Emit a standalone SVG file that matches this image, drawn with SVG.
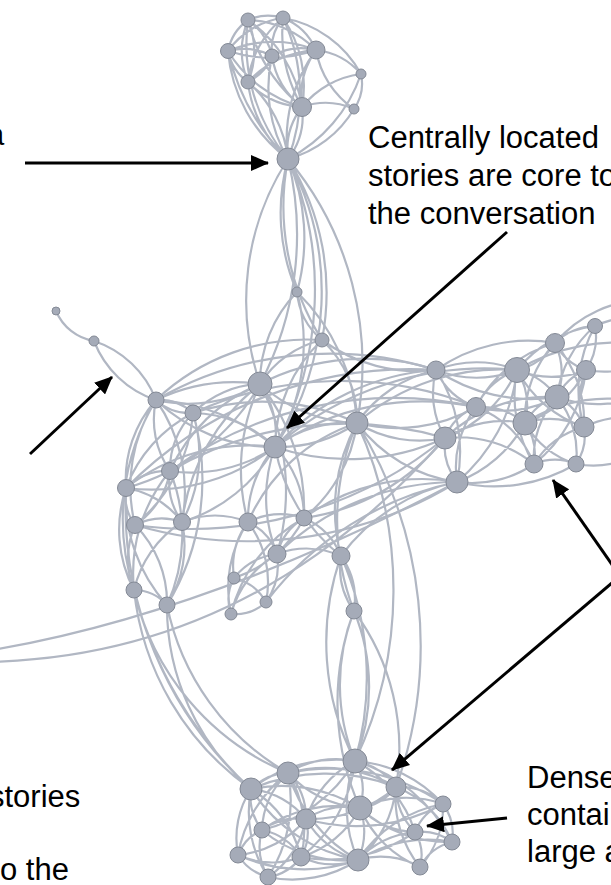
<svg xmlns="http://www.w3.org/2000/svg" width="611" height="885" viewBox="0 0 611 885">
<style>
.n{fill:#a5abb8;stroke:#848a96;stroke-width:1}
.t{font-family:"Liberation Sans",Arial,sans-serif;font-size:31px;fill:#000}
.a{stroke:#000;stroke-width:3;fill:none}
</style>
<defs>
<marker id="ah" viewBox="0 0 18 16" refX="17" refY="8" markerWidth="18" markerHeight="16" markerUnits="userSpaceOnUse" orient="auto"><path d="M0,0 L18,8 L0,16 z" fill="#000"/></marker>
</defs>
<rect width="611" height="885" fill="#fff"/>
<g id="connectors" fill="none" stroke="#b1b7c3" stroke-width="2.2">
<path d="M248 20A50 50 0 0 1 283 18M248 20A50 50 0 0 0 228 51M248 20A60 60 0 0 1 272 56M248 20A100 100 0 0 1 316 50M248 20A80 80 0 0 0 248 82M248 20A80 80 0 0 1 248 82M248 20A130 130 0 0 1 302 107M248 20A160 160 0 0 0 302 107M248 20A180 180 0 0 0 288 159M283 18A80 80 0 0 0 228 51M283 18A50 50 0 0 0 272 56M283 18A60 60 0 0 1 316 50M283 18A95 95 0 0 0 248 82M283 18A120 120 0 0 1 302 107M283 18A150 150 0 0 0 302 107M283 18A110 110 0 0 1 361 74M283 18A180 180 0 0 1 288 159M228 51A60 60 0 0 1 272 56M228 51A115 115 0 0 1 316 50M228 51A140 140 0 0 0 316 50M228 51A50 50 0 0 0 248 82M228 51A125 125 0 0 0 302 107M228 51A150 150 0 0 0 288 159M228 51A220 220 0 0 0 288 159M272 56A60 60 0 0 1 316 50M272 56A50 50 0 0 1 248 82M272 56A80 80 0 0 0 302 107M272 56A140 140 0 0 0 288 159M316 50A100 100 0 0 0 248 82M316 50A80 80 0 0 0 302 107M316 50A70 70 0 0 1 361 74M316 50A90 90 0 0 0 354 109M316 50A150 150 0 0 0 288 159M248 82A80 80 0 0 0 302 107M248 82A120 120 0 0 0 288 159M248 82A120 120 0 0 1 288 159M302 107A90 90 0 0 1 361 74M302 107A70 70 0 0 1 354 109M361 74A45 45 0 0 1 354 109M302 107A70 70 0 0 0 288 159M302 107A70 70 0 0 1 288 159M354 109A110 110 0 0 1 288 159M361 74A150 150 0 0 1 288 159"/>
<path d="M288 159A200 200 0 0 0 297 292M288 159A200 200 0 0 1 297 292M288 159A260 260 0 0 0 260 384M288 159A320 320 0 0 1 260 384M288 159A330 330 0 0 1 275 447M288 159A280 280 0 0 1 275 447M288 159A250 250 0 0 1 322 340M288 159A250 250 0 0 0 322 340M288 159A320 320 0 0 1 357 423"/>
<path d="M297 292A130 130 0 0 0 260 384M297 292A70 70 0 0 0 322 340M297 292A200 200 0 0 1 275 447M297 292A200 200 0 0 1 357 423M322 340A100 100 0 0 0 260 384M322 340A150 150 0 0 0 275 447M322 340A160 160 0 0 0 436 370M322 340A110 110 0 0 1 357 423M322 340A220 220 0 0 0 156 400M260 384A140 140 0 0 1 156 400M260 384A180 180 0 0 0 156 400M260 384A100 100 0 0 0 193 413M260 384A90 90 0 0 1 275 447M260 384A150 150 0 0 0 357 423M260 384A170 170 0 0 0 170 471M260 384A220 220 0 0 1 126 488M260 384A200 200 0 0 0 248 522M260 384A200 200 0 0 1 304 518M260 384A230 230 0 0 1 436 370M260 384A230 230 0 0 1 277 554M260 384A210 210 0 0 0 182 522"/>
<path d="M275 447A170 170 0 0 1 156 400M275 447A200 200 0 0 0 156 400M275 447A120 120 0 0 0 193 413M275 447A150 150 0 0 1 170 471M275 447A200 200 0 0 0 126 488M275 447A200 200 0 0 1 126 488M275 447A160 160 0 0 1 182 522M275 447A110 110 0 0 0 248 522M275 447A100 100 0 0 1 304 518M275 447A120 120 0 0 1 357 423M275 447A140 140 0 0 0 357 423M275 447A240 240 0 0 1 436 370M275 447A320 320 0 0 1 517 370M275 447A260 260 0 0 1 476 407M275 447A150 150 0 0 0 277 554M275 447A180 180 0 0 0 341 556M275 447A230 230 0 0 0 445 438"/>
<path d="M156 400A350 350 0 0 1 436 370M193 413A360 360 0 0 1 476 407M170 471A350 350 0 0 1 445 438M135 525A400 400 0 0 0 457 482M193 413A220 220 0 0 1 357 423M126 488A400 400 0 0 1 436 370M135 525A400 400 0 0 0 445 438M170 471A380 380 0 0 1 476 407"/>
<path d="M357 423A130 130 0 0 1 436 370M357 423A160 160 0 0 0 476 407M357 423A120 120 0 0 0 445 438M357 423A150 150 0 0 0 457 482M357 423A150 150 0 0 1 304 518M357 423A180 180 0 0 0 341 556M357 423A220 220 0 0 1 517 370M357 423A250 250 0 0 0 354 611M357 423A400 400 0 0 1 355 761M357 423A420 420 0 0 1 396 787"/>
<path d="M436 370A110 110 0 0 1 517 370M436 370A110 110 0 0 0 517 370M436 370A160 160 0 0 1 555 343M436 370A70 70 0 0 0 476 407M436 370A90 90 0 0 0 445 438M436 370A170 170 0 0 0 557 397M436 370A150 150 0 0 1 457 482M517 370A60 60 0 0 0 555 343M517 370A120 120 0 0 1 595 326M517 370A90 90 0 0 0 586 370M517 370A70 70 0 0 1 557 397M517 370A75 75 0 0 0 476 407M517 370A70 70 0 0 1 525 423M517 370A120 120 0 0 0 584 427M517 370A130 130 0 0 1 445 438M517 370A130 130 0 0 0 534 464M517 370A170 170 0 0 1 457 482M555 343A60 60 0 0 1 595 326M555 343A55 55 0 0 0 586 370M555 343A70 70 0 0 1 557 397M555 343A110 110 0 0 0 525 423M555 343A120 120 0 0 1 584 427M555 343A130 130 0 0 0 476 407M595 326A60 60 0 0 1 586 370M595 326A110 110 0 0 0 557 397M595 326A130 130 0 0 0 584 427M586 370A55 55 0 0 0 557 397M586 370A110 110 0 0 1 525 423M586 370A80 80 0 0 0 584 427M586 370A140 140 0 0 1 534 464M557 397A110 110 0 0 1 476 407M557 397A55 55 0 0 0 525 423M557 397A55 55 0 0 1 584 427M557 397A90 90 0 0 0 534 464M557 397A90 90 0 0 1 576 464M557 397A150 150 0 0 0 445 438M476 407A70 70 0 0 1 525 423M476 407A55 55 0 0 0 445 438M476 407A100 100 0 0 1 534 464M476 407A100 100 0 0 0 457 482M525 423A80 80 0 0 1 584 427M525 423A110 110 0 0 0 445 438M525 423A55 55 0 0 1 534 464M525 423A90 90 0 0 0 576 464M525 423A130 130 0 0 1 457 482M584 427A50 50 0 0 1 576 464M584 427A85 85 0 0 0 534 464M445 438A120 120 0 0 1 534 464M445 438A60 60 0 0 0 457 482M534 464A55 55 0 0 1 576 464M457 482A110 110 0 0 0 534 464M457 482A160 160 0 0 0 576 464"/>
<path d="M595 326A100 100 0 0 1 650 318M586 370A100 100 0 0 0 650 360M584 427A100 100 0 0 1 650 420M557 397A120 120 0 0 0 650 392M576 464A100 100 0 0 0 650 448M555 343A120 120 0 0 1 650 300M525 423A150 150 0 0 1 650 405M517 370A200 200 0 0 1 650 345"/>
<path d="M56 311A50 50 0 0 0 94 341M94 341A100 100 0 0 1 156 400M94 341A100 100 0 0 0 156 400M156 400A50 50 0 0 1 193 413M156 400A50 50 0 0 0 193 413M156 400A90 90 0 0 0 170 471M156 400A120 120 0 0 0 126 488M156 400A160 160 0 0 0 135 525M156 400A230 230 0 0 0 134 590M156 400A160 160 0 0 1 182 522M193 413A80 80 0 0 0 170 471M193 413A140 140 0 0 0 126 488M193 413A140 140 0 0 1 182 522M193 413A160 160 0 0 1 135 525M193 413A240 240 0 0 1 167 605M170 471A60 60 0 0 0 126 488M170 471A80 80 0 0 1 135 525M170 471A70 70 0 0 0 182 522M170 471A160 160 0 0 0 134 590M170 471A170 170 0 0 1 167 605M126 488A50 50 0 0 0 135 525M126 488A90 90 0 0 1 182 522M126 488A130 130 0 0 0 134 590M126 488A160 160 0 0 0 167 605M135 525A60 60 0 0 1 182 522M135 525A85 85 0 0 0 134 590M135 525A110 110 0 0 1 167 605M182 522A110 110 0 0 0 134 590M182 522A110 110 0 0 1 167 605M182 522A90 90 0 0 1 248 522M134 590A45 45 0 0 1 167 605"/>
<path d="M248 522A55 55 0 0 1 277 554M248 522A75 75 0 0 0 234 578M248 522A100 100 0 0 1 266 602M248 522A120 120 0 0 0 231 614M248 522A75 75 0 0 1 304 518M248 522A180 180 0 0 1 357 423M304 518A60 60 0 0 0 277 554M304 518A120 120 0 0 1 234 578M304 518A70 70 0 0 1 341 556M304 518A200 200 0 0 1 457 482M304 518A220 220 0 0 0 445 438M277 554A65 65 0 0 0 234 578M277 554A65 65 0 0 1 266 602M277 554A100 100 0 0 0 231 614M277 554A85 85 0 0 1 341 556M277 554A260 260 0 0 1 457 482M234 578A50 50 0 0 1 266 602M234 578A45 45 0 0 0 231 614M266 602A45 45 0 0 1 231 614M266 602A320 320 0 0 1 457 482M231 614A150 150 0 0 1 304 518M341 556A75 75 0 0 0 354 611M341 556A75 75 0 0 1 354 611M341 556A190 190 0 0 1 457 482M341 556A260 260 0 0 0 355 761M341 556A300 300 0 0 1 355 761M354 611A200 200 0 0 0 355 761M354 611A200 200 0 0 1 355 761M354 611A230 230 0 0 1 396 787M354 611A260 260 0 0 0 360 808"/>
<path d="M-20 652Q201 617 457 482M-20 662Q250 660 445 438"/>
<path d="M134 590A280 280 0 0 0 251 789M134 590A400 400 0 0 0 251 789M134 590A260 260 0 0 0 288 773M167 605A240 240 0 0 0 251 789M167 605A250 250 0 0 0 288 773M126 488A380 380 0 0 0 251 789"/>
<path d="M355 761A90 90 0 0 0 288 773M355 761A140 140 0 0 0 251 789M355 761A65 65 0 0 1 396 787M355 761A60 60 0 0 1 360 808M355 761A100 100 0 0 0 306 819M355 761A150 150 0 0 1 262 830M355 761A130 130 0 0 1 443 804M355 761A120 120 0 0 1 415 832M355 761A160 160 0 0 1 452 842M355 761A130 130 0 0 0 358 860M355 761A140 140 0 0 1 301 857M288 773A55 55 0 0 0 251 789M288 773A140 140 0 0 1 396 787M288 773A110 110 0 0 0 360 808M288 773A65 65 0 0 1 306 819M288 773A80 80 0 0 0 262 830M288 773A130 130 0 0 0 238 855M288 773A110 110 0 0 1 301 857M288 773A150 150 0 0 0 358 860M288 773A140 140 0 0 1 268 877M288 773A200 200 0 0 1 443 804M251 789A150 150 0 0 1 360 808M251 789A85 85 0 0 1 306 819M251 789A55 55 0 0 0 262 830M251 789A90 90 0 0 0 238 855M251 789A110 110 0 0 1 301 857M251 789A120 120 0 0 0 268 877M251 789A160 160 0 0 0 358 860M251 789A190 190 0 0 1 396 787M396 787A55 55 0 0 1 360 808M396 787A65 65 0 0 1 443 804M396 787A65 65 0 0 0 415 832M396 787A100 100 0 0 1 452 842M396 787A110 110 0 0 0 420 867M396 787A110 110 0 0 1 358 860M396 787A130 130 0 0 1 306 819M360 808A75 75 0 0 0 306 819M360 808A110 110 0 0 1 443 804M360 808A80 80 0 0 0 415 832M360 808A130 130 0 0 0 452 842M360 808A100 100 0 0 1 301 857M360 808A70 70 0 0 1 358 860M360 808A110 110 0 0 0 420 867M360 808A130 130 0 0 0 262 830M306 819A60 60 0 0 0 262 830M306 819A50 50 0 0 1 301 857M306 819A100 100 0 0 1 238 855M306 819A90 90 0 0 0 358 860M306 819A90 90 0 0 1 268 877M262 830A45 45 0 0 0 238 855M262 830A60 60 0 0 1 301 857M262 830A60 60 0 0 0 268 877M262 830A130 130 0 0 0 358 860M443 804A50 50 0 0 0 415 832M443 804A50 50 0 0 1 452 842M443 804A90 90 0 0 1 420 867M415 832A50 50 0 0 1 452 842M415 832A45 45 0 0 1 420 867M415 832A90 90 0 0 0 358 860M452 842A50 50 0 0 0 420 867M238 855A50 50 0 0 0 268 877M238 855A80 80 0 0 0 301 857M301 857A75 75 0 0 0 358 860M301 857A50 50 0 0 1 268 877M358 860A80 80 0 0 1 420 867M358 860A120 120 0 0 1 268 877M238 855A160 160 0 0 0 358 860M415 832A150 150 0 0 1 301 857M452 842A130 130 0 0 0 358 860M443 804A130 130 0 0 0 358 860M443 804A180 180 0 0 1 306 819"/>
</g>
<g id="nodes">
<g id="T1"><circle class="n" cx="248" cy="20" r="7"/></g>
<g id="T2"><circle class="n" cx="283" cy="18" r="7"/></g>
<g id="T3"><circle class="n" cx="228" cy="51" r="7.5"/></g>
<g id="T4"><circle class="n" cx="272" cy="56" r="7"/></g>
<g id="T5"><circle class="n" cx="316" cy="50" r="9"/></g>
<g id="T6"><circle class="n" cx="248" cy="82" r="7"/></g>
<g id="T7"><circle class="n" cx="302" cy="107" r="9.5"/></g>
<g id="T8"><circle class="n" cx="361" cy="74" r="5"/></g>
<g id="T9"><circle class="n" cx="354" cy="109" r="5"/></g>
<g id="B"><circle class="n" cx="288" cy="159" r="11"/></g>
<g id="L1"><circle class="n" cx="56" cy="311" r="4"/></g>
<g id="L2"><circle class="n" cx="94" cy="341" r="5"/></g>
<g id="L3"><circle class="n" cx="156" cy="400" r="8"/></g>
<g id="L4"><circle class="n" cx="193" cy="413" r="8"/></g>
<g id="P1"><circle class="n" cx="297" cy="292" r="5"/></g>
<g id="P2"><circle class="n" cx="322" cy="340" r="7"/></g>
<g id="C1"><circle class="n" cx="260" cy="384" r="12"/></g>
<g id="C2"><circle class="n" cx="275" cy="447" r="11"/></g>
<g id="C3"><circle class="n" cx="357" cy="423" r="11"/></g>
<g id="R1"><circle class="n" cx="436" cy="370" r="9"/></g>
<g id="R2"><circle class="n" cx="517" cy="370" r="12.5"/></g>
<g id="R3"><circle class="n" cx="555" cy="343" r="9.5"/></g>
<g id="R4"><circle class="n" cx="595" cy="326" r="7.5"/></g>
<g id="R5"><circle class="n" cx="586" cy="370" r="9.5"/></g>
<g id="R6"><circle class="n" cx="557" cy="397" r="12"/></g>
<g id="R7"><circle class="n" cx="476" cy="407" r="9.5"/></g>
<g id="R8"><circle class="n" cx="525" cy="423" r="12"/></g>
<g id="R9"><circle class="n" cx="584" cy="427" r="10"/></g>
<g id="R10"><circle class="n" cx="445" cy="438" r="11"/></g>
<g id="R11"><circle class="n" cx="534" cy="464" r="9"/></g>
<g id="R12"><circle class="n" cx="576" cy="464" r="8"/></g>
<g id="R13"><circle class="n" cx="457" cy="482" r="11"/></g>
<g id="M1"><circle class="n" cx="170" cy="471" r="8.5"/></g>
<g id="M2"><circle class="n" cx="126" cy="488" r="8.5"/></g>
<g id="M3"><circle class="n" cx="135" cy="525" r="8.5"/></g>
<g id="M4"><circle class="n" cx="182" cy="522" r="8.5"/></g>
<g id="M5"><circle class="n" cx="248" cy="522" r="9"/></g>
<g id="M6"><circle class="n" cx="304" cy="518" r="8"/></g>
<g id="M7"><circle class="n" cx="277" cy="554" r="9"/></g>
<g id="M8"><circle class="n" cx="341" cy="556" r="9"/></g>
<g id="S1"><circle class="n" cx="234" cy="578" r="6"/></g>
<g id="S2"><circle class="n" cx="266" cy="602" r="6"/></g>
<g id="S3"><circle class="n" cx="231" cy="614" r="6"/></g>
<g id="M9"><circle class="n" cx="134" cy="590" r="8"/></g>
<g id="M10"><circle class="n" cx="167" cy="605" r="8"/></g>
<g id="M11"><circle class="n" cx="354" cy="611" r="8"/></g>
<g id="D1"><circle class="n" cx="355" cy="761" r="12"/></g>
<g id="D2"><circle class="n" cx="288" cy="773" r="11"/></g>
<g id="D3"><circle class="n" cx="251" cy="789" r="11"/></g>
<g id="D4"><circle class="n" cx="396" cy="787" r="10"/></g>
<g id="D5"><circle class="n" cx="360" cy="808" r="12"/></g>
<g id="D6"><circle class="n" cx="306" cy="819" r="10"/></g>
<g id="D7"><circle class="n" cx="262" cy="830" r="8"/></g>
<g id="D8"><circle class="n" cx="443" cy="804" r="8"/></g>
<g id="D9"><circle class="n" cx="415" cy="832" r="8"/></g>
<g id="D10"><circle class="n" cx="452" cy="842" r="8"/></g>
<g id="D11"><circle class="n" cx="238" cy="855" r="8"/></g>
<g id="D12"><circle class="n" cx="301" cy="857" r="9"/></g>
<g id="D13"><circle class="n" cx="358" cy="860" r="11"/></g>
<g id="D14"><circle class="n" cx="420" cy="867" r="8"/></g>
<g id="D15"><circle class="n" cx="268" cy="877" r="8"/></g>
</g>
<g id="annotation-arrows">
<line class="a" x1="25" y1="163" x2="268" y2="163" marker-end="url(#ah)"/>
<line class="a" x1="30" y1="454" x2="112" y2="377" marker-end="url(#ah)"/>
<line class="a" x1="507" y1="232" x2="287" y2="428" marker-end="url(#ah)"/>
<line class="a" x1="620" y1="576" x2="553" y2="480" marker-end="url(#ah)"/>
<line class="a" x1="620" y1="576" x2="392" y2="770" marker-end="url(#ah)"/>
<line class="a" x1="507" y1="818" x2="427" y2="826" marker-end="url(#ah)"/>
</g>
<g id="labels">
<text class="t" x="-13" y="145">a</text>
<text class="t" x="368" y="148">Centrally located</text>
<text class="t" x="368" y="186">stories are core to</text>
<text class="t" x="368" y="224">the conversation</text>
<text class="t" x="-11" y="807">stories</text>
<text class="t" x="0" y="880">o the</text>
<text class="t" x="527" y="788">Dense</text>
<text class="t" x="527" y="825">contai</text>
<text class="t" x="527" y="862">large a</text>
</g>
</svg>
